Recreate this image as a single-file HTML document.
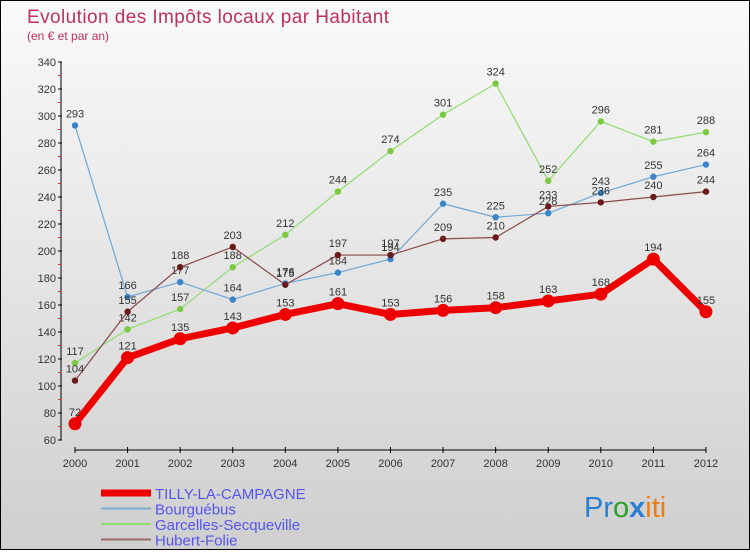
<!DOCTYPE html>
<html><head><meta charset="utf-8"><style>
html,body{margin:0;padding:0}
body{width:750px;height:550px;overflow:hidden;font-family:"Liberation Sans",sans-serif}
#c{position:absolute;left:0;top:0;width:748px;height:548px;border:1px solid #000;background:linear-gradient(#fafafa,#cfcfcf)}
</style></head><body>
<div id="c">
<svg id="svg" width="748" height="548" xmlns="http://www.w3.org/2000/svg">
<text x="26" y="22" font-size="19" fill="#c0305a" textLength="362">Evolution des Impôts locaux par Habitant</text>
<text x="26" y="39" font-size="12" fill="#c0305a">(en € et par an)</text>
<g id="axes"></g><g id="series"></g><g id="legend"></g>
<text x="583" y="516" font-size="29"><tspan fill="#2a7fd4">Pr</tspan><tspan fill="#2aa02a">o</tspan><tspan fill="#2a7fd4" font-weight="bold">x</tspan><tspan fill="#f07c10">iti</tspan></text>
</svg></div>
<script>
const years=[2000,2001,2002,2003,2004,2005,2006,2007,2008,2009,2010,2011,2012];
const yTicks=[60,80,100,120,140,160,180,200,220,240,260,280,300,320,340];
const tilly=[72,121,135,143,153,161,153,156,158,163,168,194,155];
const bourg=[293,166,177,164,176,184,194,235,225,228,243,255,264];
const garc=[117,142,157,188,212,244,274,301,324,252,296,281,288];
const hubert=[104,155,188,203,175,197,197,209,210,233,236,240,244];
const NS='http://www.w3.org/2000/svg';
function X(i){return 74+i*52.58;}
function Y(v){return 439-(v-60)*(378/280);}
function mk(p,t,a){const e=document.createElementNS(NS,t);for(const k in a)e.setAttribute(k,a[k]);p.appendChild(e);return e;}
const ax=document.getElementById('axes');
let l=mk(ax,'line',{x1:60,y1:Y(340),x2:60,y2:Y(60),stroke:'#000'});


l=mk(ax,'line',{x1:X(0),y1:449,x2:X(12),y2:449,stroke:'#000'});


yTicks.forEach(v=>{mk(ax,'line',{x1:57,x2:61,y1:Y(v),y2:Y(v),stroke:'#000'});
 if(v<340)mk(ax,'line',{x1:57,x2:60,y1:Y(v+10),y2:Y(v+10),stroke:'#e03030'});
 const t=mk(ax,'text',{x:55,y:Y(v)+4,'font-size':11,'text-anchor':'end',fill:'#333'});t.textContent=v;
 
 });
years.forEach((yr,i)=>{mk(ax,'line',{x1:X(i),x2:X(i),y1:446,y2:452,stroke:'#000'});
 const t=mk(ax,'text',{x:X(i),y:466,'font-size':11,'text-anchor':'middle',fill:'#333'});t.textContent=yr;
 
 });
const sg=document.getElementById('series');
function series(d,col,dot,w,r,name){const g=mk(sg,'g',{});
 
 
 mk(g,'polyline',{points:d.map((v,i)=>X(i)+','+Y(v)).join(' '),fill:'none',stroke:col,'stroke-width':w,'stroke-linejoin':'round'});
 d.forEach((v,i)=>{const c=mk(g,'circle',{cx:X(i),cy:Y(v),r:r,fill:dot});
  
  
  const t=mk(g,'text',{x:X(i),y:Y(v)-8,'font-size':11,'text-anchor':'middle',fill:'#333'});t.textContent=v;
  
  });}
series(garc,'#90dd70','#7cc840',1.2,3.2,'series-garcelles');
series(bourg,'#6fa8d6','#3a85c8',1.2,3.2,'series-bourguebus');
series(hubert,'#8a4a4a','#6a1a1a',1.2,3.2,'series-hubert-folie');
series(tilly,'#ee0000','#ee0000',7,6.5,'series-tilly');
const lg=document.getElementById('legend');
[['TILLY-LA-CAMPAGNE','#ee0000',7],['Bourguébus','#7aaad0',2],['Garcelles-Secqueville','#90dd70',2],['Hubert-Folie','#9a6a6a',2]].forEach((s,i)=>{
 const y=492+i*15.5;
 const g=mk(lg,'g',{});
 
 
 mk(g,'line',{x1:100,x2:150,y1:y,y2:y,stroke:s[1],'stroke-width':s[2]});
 const t=mk(g,'text',{x:154,y:y+6,'font-size':15,fill:'#5555ee'});t.textContent=s[0];});
</script>
</body></html>
